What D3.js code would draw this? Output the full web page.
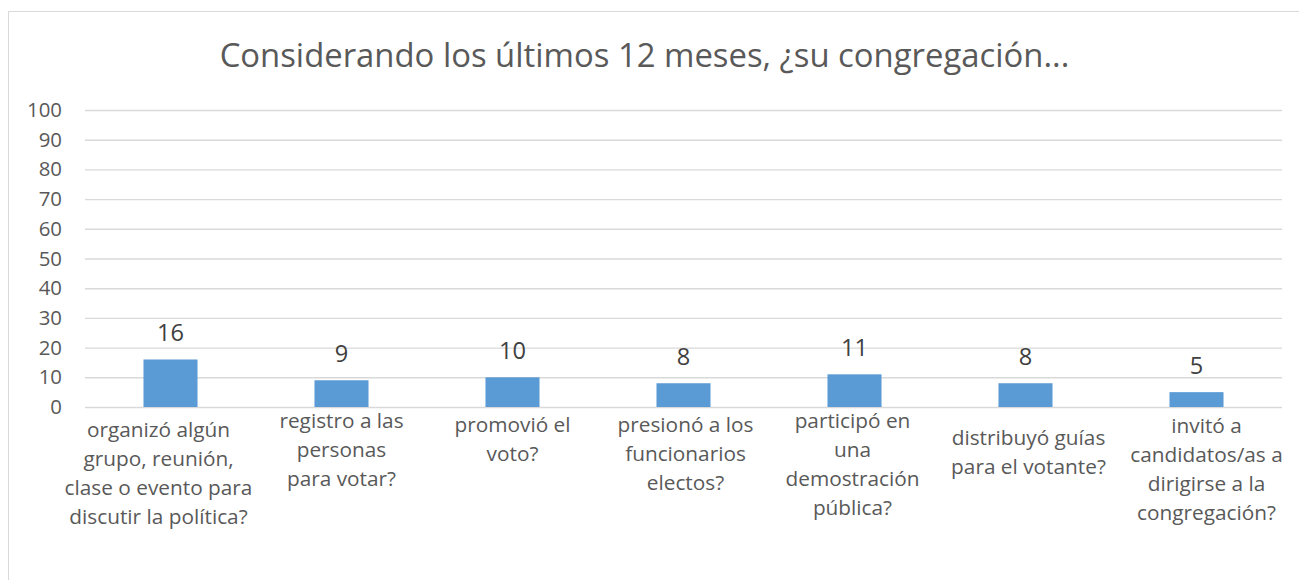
<!DOCTYPE html>
<html>
<head>
<meta charset="utf-8">
<script src="https://cdn.jsdelivr.net/npm/d3@7"></script>
<style>
  html, body { margin: 0; padding: 0; background: #fff; }
  svg { display: block; }
  text { font-family: "Open Sans", "Noto Sans", sans-serif; }
</style>
</head>
<body>
<svg id="chart" width="1299" height="580"></svg>
<script>
// ---- data ----
const title = "Considerando los últimos 12 meses, ¿su congregación...";
const categories = [
  ["organizó algún", "grupo, reunión,", "clase o evento para", "discutir la política?"],
  ["registro a las", "personas", "para votar?"],
  ["promovió el", "voto?"],
  ["presionó a los", "funcionarios", "electos?"],
  ["participó en", "una", "demostración", "pública?"],
  ["distribuyó guías", "para el votante?"],
  ["invitó a", "candidatos/as a", "dirigirse a la", "congregación?"]
];
const values = [16, 9, 10, 8, 11, 8, 5];
const yTicks = [0, 10, 20, 30, 40, 50, 60, 70, 80, 90, 100];

// ---- layout (not data) ----
const labelNudge = [[-12, 5], [0, -4], [0, 0], [2, 0], [-2, -4], [3, 13], [10, 1]];

const svg = d3.select("#chart");
const plot = { left: 85, right: 1282, top: 110, bottom: 407 };

svg.append("rect")
  .attr("x", 8.5).attr("y", 11.5)
  .attr("width", 1400).attr("height", 700)
  .attr("fill", "#fff").attr("stroke", "#D9D9D9").attr("stroke-width", 1);

const x = d3.scaleBand()
  .domain(d3.range(categories.length))
  .range([plot.left, plot.right])
  .paddingInner(0.684).paddingOuter(0.342);

const xc = d3.scaleBand()
  .domain(d3.range(categories.length))
  .range([plot.left, plot.right]);

const y = d3.scaleLinear().domain([0, 100]).range([plot.bottom, plot.top]);

function fitSize(str, target) {
  const t = svg.append("text").attr("font-size", 100).text(str);
  const w = t.node().getComputedTextLength();
  t.remove();
  return 100 * target / w;
}

// title
const titleSize = fitSize(title, 850);
svg.append("text")
  .attr("x", (221 + 1068) / 2).attr("y", 67)
  .attr("text-anchor", "middle")
  .attr("font-size", titleSize)
  .attr("fill", "#595959")
  .text(title);

// gridlines + y labels via axis
const yAxis = d3.axisLeft(y).tickValues(yTicks).tickSize(-(plot.right - plot.left)).tickPadding(23);
const gy = svg.append("g").attr("transform", `translate(${plot.left},0)`).call(yAxis);
gy.select(".domain").remove();
gy.selectAll(".tick line").attr("stroke", "#D9D9D9").attr("stroke-width", 1.4);
gy.selectAll(".tick text")
  .attr("font-family", "'Open Sans', sans-serif")
  .attr("font-size", fitSize("100", 35))
  .attr("fill", "#595959");

// bars
svg.append("g").selectAll("rect").data(values).join("rect")
  .attr("x", (d, i) => x(i))
  .attr("width", x.bandwidth())
  .attr("y", d => y(d))
  .attr("height", d => y(0) - y(d))
  .attr("fill", "#5B9BD5");

// value labels
const valSize = fitSize("16", 27);
svg.append("g").selectAll("text").data(values).join("text")
  .attr("x", (d, i) => xc(i) + xc.bandwidth() / 2)
  .attr("y", d => y(d) - 18)
  .attr("text-anchor", "middle")
  .attr("font-size", valSize)
  .attr("fill", "#404040")
  .text(d => d);

// category labels
const catSize = fitSize("clase o evento para", 188);
const lineH = 29;
const gc = svg.append("g");
categories.forEach((lines, i) => {
  const cx = xc(i) + xc.bandwidth() / 2 + labelNudge[i][0];
  const cy = 432 + labelNudge[i][1];
  const t = gc.append("text")
    .attr("x", cx)
    .attr("y", cy)
    .attr("text-anchor", "middle")
    .attr("font-size", catSize)
    .attr("fill", "#595959");
  lines.forEach((ln, j) => {
    t.append("tspan")
      .attr("x", cx)
      .attr("y", cy + j * lineH)
      .text(ln);
  });
});
</script>
</body>
</html>
